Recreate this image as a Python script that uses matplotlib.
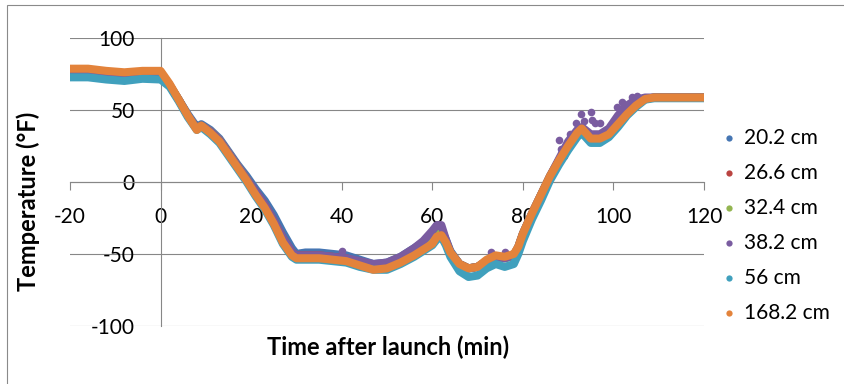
"""Balloon flight temperature profile at several heights."""
import matplotlib.pyplot as plt
from matplotlib.lines import Line2D
from matplotlib.patches import Rectangle

plt.rcParams["font.family"] = ["Lato", "DejaVu Sans"]
plt.rcParams["axes.unicode_minus"] = False

# time after launch (min), shared by all series
t_min = [-20, -16, -12, -8, -4, 0, 2, 4, 6, 8, 9, 11, 13, 15, 17, 19, 21, 23,
         25, 27, 29, 30, 32, 35, 38, 41, 44, 47, 50, 53, 56, 58, 60, 61, 62,
         63, 64, 66, 68, 70, 72, 74, 76, 78, 79, 80, 82, 84, 86, 88, 90, 92,
         93, 95, 97, 99, 101, 103, 105, 107, 109, 112, 116, 120]

temp_20_2 = [76, 76, 75, 74, 75, 75, 67, 57, 47, 38, 40, 36, 30, 21, 12,
             4, -5, -13, -23, -35, -46, -50, -49, -49, -50, -51, -54, -57,
             -56, -52, -46, -42, -36, -33, -33, -40, -48, -57, -60, -59,
             -55, -52, -53, -51, -46, -37, -23, -10, 3, 14, 24, 33, 36,
             30, 30, 33, 40, 47, 53, 57.5, 58.5, 58.5, 58.5, 58.5]
temp_26_6 = [77, 77, 76, 75, 76, 76, 67, 57, 46, 37, 39, 35, 29, 20, 11,
             2, -7, -16, -27, -39, -49, -51, -51, -51, -52, -53, -56, -58,
             -58, -54, -48, -44, -38, -34, -34, -41, -49, -57, -60, -59,
             -55, -52, -53, -51, -45, -36, -22, -9, 4, 15, 25, 34, 37,
             30, 30, 33, 40, 47, 53, 57.5, 58.5, 58.5, 58.5, 58.5]
temp_32_4 = [77, 77, 76, 75, 76, 76, 67, 57, 46, 37, 39, 35, 29, 20, 11,
             2, -8, -17, -28, -40, -50, -52, -52, -52, -53, -54, -57, -59,
             -59, -55, -49, -45, -40, -36, -35, -42, -49, -57, -60, -59,
             -55, -52, -53, -51, -45, -36, -22, -9, 4, 15, 25, 34, 37,
             30, 30, 33, 40, 47, 53, 57.5, 58.5, 58.5, 58.5, 58.5]
temp_38_2 = [76, 76, 75, 74, 75, 75, 67, 57, 46, 37, 39, 35, 29, 20, 11,
             2, -7, -16, -27, -39, -49, -51, -51, -51, -52, -53, -55, -57,
             -56, -52, -46, -41, -34, -30, -30, -40, -49, -57, -60, -59,
             -55, -52, -53, -51, -45, -36, -22, -9, 4, 16, 28, 36, 38,
             33, 33, 37, 46, 53, 57, 58.5, 58.5, 58.5, 58.5, 58.5]
temp_56 = [72.5, 72.5, 71, 70, 71.5, 71, 66, 56, 45, 36, 38, 33, 27, 18, 9,
           0, -10, -19, -30, -43, -52, -54, -54, -54, -55, -56, -59, -61,
           -61, -57, -52, -48, -44, -40, -38, -44, -52, -62, -66, -65,
           -60, -57, -59, -57, -50, -41, -26, -13, 1, 12, 22, 31, 34,
           27, 27, 31, 38, 46, 52, 57, 58, 58, 58, 58]
temp_168_2 = [78.5, 78.5, 77, 76, 77, 77, 68, 57, 46, 36, 39, 34, 28, 19, 10,
              1, -9, -18, -29, -42, -51, -53, -53, -53, -54, -55, -58, -61,
              -60, -56, -51, -47, -43, -38, -37, -42, -49, -57, -60, -59,
              -54, -51, -52, -50, -45, -36, -22, -9, 4, 15, 25, 34, 37,
              30, 30, 33, 40, 47, 53, 57.5, 58.5, 58.5, 58.5, 58.5]

# scattered 38.2 cm readings
spike_t = [40, 73, 76, 88, 88.5, 89, 90.3, 91.8, 92.9, 93.5, 95.1, 95.3, 96,
           97, 100.7, 101.8, 104, 105.3]
spike_v = [-48, -49, -49, 29, 23, 18, 33.5, 40.5, 47.4, 42, 48.5, 43, 41,
           40.5, 52, 55.4, 59, 59.5]

labels = ["20.2 cm", "26.6 cm", "32.4 cm", "38.2 cm", "56 cm", "168.2 cm"]
colors = ["#4676B3", "#BA4441", "#93B550", "#7A5CA0", "#40A0BD", "#E3833B"]
series = [temp_20_2, temp_26_6, temp_32_4, temp_38_2, temp_56, temp_168_2]

W, H = 845, 384
fig = plt.figure(figsize=(W / 100, H / 100), dpi=100)
ax = fig.add_axes([70 / W, 1 - 326 / H, 634 / W, 288.3 / H])

for i, (vals, col) in enumerate(zip(series, colors)):
    ax.plot(t_min, vals, color=col, lw=5.8, solid_capstyle="round",
            solid_joinstyle="round", zorder=3 + i)
    if i == 3:
        ax.plot(spike_t, spike_v, "o", color=col, ms=5.5, mec="none", zorder=3 + i)

ax.set_xlim(-20, 120)
ax.set_ylim(-100, 100)
ax.set_xticks(range(-20, 121, 20))
ax.set_yticks(range(-100, 101, 50))

grey = "#878787"
ax.yaxis.grid(True, color=grey, lw=0.8)
ax.set_axisbelow(True)
for s in ["top", "right"]:
    ax.spines[s].set_visible(False)
ax.spines["left"].set_position(("data", 0))
ax.spines["bottom"].set_position(("data", 0))
ax.spines["left"].set_color(grey)
ax.spines["bottom"].set_color(grey)
ax.spines["left"].set_linewidth(0.8)
ax.spines["bottom"].set_linewidth(0.8)
ax.tick_params(axis="y", length=0, pad=18.5, labelsize=15)
ax.tick_params(axis="x", direction="out", length=5.8, width=0.8, color=grey,
               pad=12.5, labelsize=15)

fig.text(28 / W, 1 - 201 / H, "Temperature (°F)", rotation=90, fontsize=17,
         fontweight="bold", ha="center", va="center")
fig.text(388 / W, 1 - 347 / H, "Time after launch (min)", fontsize=17,
         fontweight="bold", ha="center", va="center")

# legend entries stacked on the right
for i, (lab, col) in enumerate(zip(labels, colors)):
    y = 1 - (138 + 35 * i) / H
    fig.add_artist(Line2D([729 / W], [y], marker="o", ms=4.5, color=col,
                          mec="none", transform=fig.transFigure))
    fig.text(744 / W, y, lab, fontsize=15, ha="left", va="center")

# chart border (runs off the right and bottom edges)
fig.add_artist(Rectangle((7.5 / W, -0.2), 1.5, 1.2 - 5 / H, fill=False,
                         ec="#8a8a8a", lw=0.8, transform=fig.transFigure))

fig.savefig("out.png", dpi=100)
